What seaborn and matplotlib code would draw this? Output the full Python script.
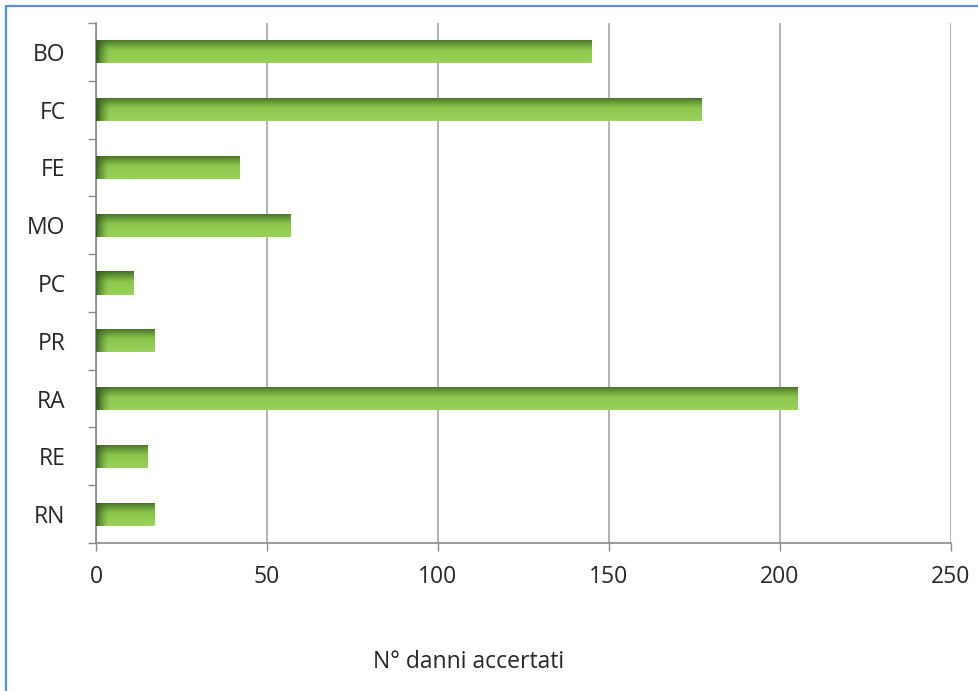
import numpy as np
import pandas as pd
import matplotlib
matplotlib.use("Agg")
import matplotlib.pyplot as plt
import seaborn as sns
from matplotlib.lines import Line2D
from matplotlib.ticker import FixedLocator

categories = ["BO", "FC", "FE", "MO", "PC", "PR", "RA", "RE", "RN"]
values = [145, 177, 42, 57, 11, 17, 205, 15, 17]
x_ticks = [0, 50, 100, 150, 200, 250]
x_label = "N° danni accertati"

df = pd.DataFrame({"prov": categories, "n": values})

sns.set_theme(style="white")
plt.rcParams["font.family"] = ["Open Sans", "DejaVu Sans"]

fig = plt.figure(figsize=(9.79, 6.91), dpi=100)
ax = fig.add_axes([96 / 979, 1 - 543 / 691, (951 - 96) / 979, (543 - 23) / 691])

sns.barplot(data=df, y="prov", x="n", orient="h", color="#8cc84e", width=0.4,
            ax=ax, zorder=3, linewidth=0)

ax.set_xlim(0, 250)
ax.set_ylim(len(categories) - 0.5, -0.5)

# gradient overlay on each bar (cylinder-like shading)
ny = 64
t = np.linspace(0, 1, ny)
dark = np.array([0x3f, 0x66, 0x22]) / 255
mid = np.array([0x8a, 0xc6, 0x4c]) / 255
low = np.array([0x9a, 0xd2, 0x5c]) / 255
prof = np.zeros((ny, 3))
for i, v in enumerate(t):
    if v < 0.45:
        a = (v / 0.45) ** 0.8
        prof[i] = dark * (1 - a) + mid * a
    else:
        a = (v - 0.45) / 0.55
        prof[i] = mid * (1 - a) + low * a
for p in ax.patches:
    x0, y0 = p.get_x(), p.get_y()
    w, h = p.get_width(), p.get_height()
    if w <= 0:
        continue
    nx = 200
    xs = np.linspace(0, w, nx)
    edge_w = 3.5
    hx = np.clip(xs / edge_w, 0, 1) ** 0.7
    leftdark = np.array([0x35, 0x5e, 0x1c]) / 255
    img = np.zeros((ny, nx, 3))
    for j in range(nx):
        img[:, j, :] = leftdark * (1 - hx[j]) + prof * hx[j]
    # y axis is inverted: y0 is visually the top edge
    im = ax.imshow(img, extent=[x0, x0 + w, y0 + h, y0], aspect="auto",
                   origin="upper", zorder=4, interpolation="bilinear")
    im.set_clip_path(p)
ax.set_aspect("auto")
ax.set_xlim(0, 250)
ax.set_ylim(len(categories) - 0.5, -0.5)

ax.set_xticks(x_ticks)
ax.set_xticklabels([str(v) for v in x_ticks])
ax.grid(axis="x", color="#a6a6a6", linewidth=1.2, zorder=0)
ax.set_axisbelow(True)

ax.yaxis.set_minor_locator(FixedLocator(np.arange(-0.5, len(categories), 1.0)))
ax.tick_params(axis="y", which="major", length=0, pad=22, labelsize=16.5, colors="#262626")
ax.tick_params(axis="y", which="minor", length=6, width=1, color="#888888", left=True)
ax.tick_params(axis="x", which="major", length=6, width=1, color="#888888",
               bottom=True, pad=10, labelsize=16.5, labelcolor="#262626")

for s in ["top", "right"]:
    ax.spines[s].set_visible(False)
for s in ["left", "bottom"]:
    ax.spines[s].set_color("#888888")
    ax.spines[s].set_linewidth(1.2)

ax.set_ylabel("")
ax.set_xlabel("")
fig.text(469 / 979, 1 - 662 / 691, x_label, ha="center", va="center",
         fontsize=16.5, color="#262626")

# blue frame (top and left edges visible)
fig.add_artist(Line2D([6 / 979, 1.0], [1 - 6 / 691, 1 - 6 / 691], transform=fig.transFigure,
                      color="#5b8fdb", linewidth=1.6))
fig.add_artist(Line2D([6 / 979, 6 / 979], [0, 1 - 6 / 691], transform=fig.transFigure,
                      color="#5b8fdb", linewidth=1.6))

fig.savefig("out.png", dpi=100)
